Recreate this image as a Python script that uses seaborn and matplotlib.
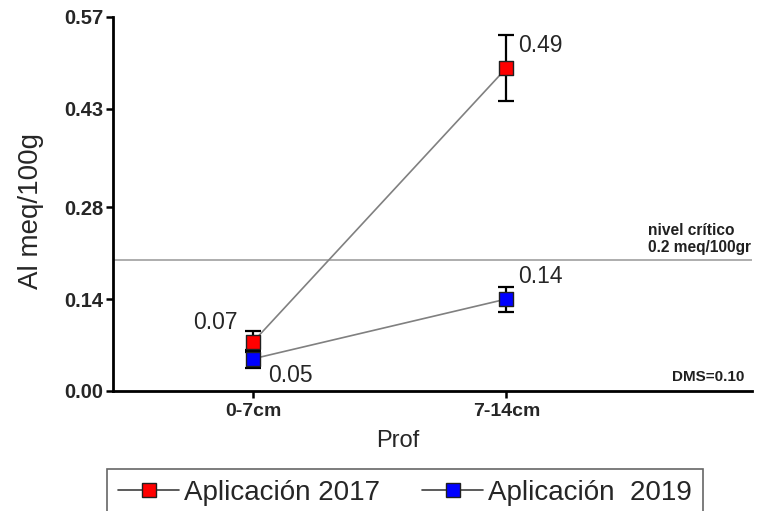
import numpy as np
import pandas as pd
import seaborn as sns
import matplotlib.pyplot as plt
from matplotlib.lines import Line2D

# data
prof = ["0-7cm", "7-14cm"]
al_2017 = [0.075, 0.492]
err_2017 = [0.016, 0.050]
al_2019 = [0.049, 0.140]
err_2019 = [0.014, 0.019]
series = ["Aplicación 2017", "Aplicación  2019"]
colors = ["#ff0000", "#0000ff"]
labels_2017 = ["0.07", "0.49"]
labels_2019 = ["0.05", "0.14"]
yticks = [0.00, 0.14, 0.28, 0.43, 0.57]
critico = 0.2

df = pd.DataFrame({
    "Prof": prof * 2,
    "Al": al_2017 + al_2019,
    "err": err_2017 + err_2019,
    "serie": [series[0]] * 2 + [series[1]] * 2,
})
df["x"] = df["Prof"].map({p: i for i, p in enumerate(prof)})

sns.set_style("white")
plt.rcParams["font.family"] = ["Liberation Sans", "DejaVu Sans"]

fig = plt.figure(figsize=(7.65, 5.11), dpi=100)
ax = fig.add_axes([0.148, 0.235, 0.835, 0.732])

ax.axhline(critico, color="#a0a0a0", lw=1.2, zorder=1)

for s in series:
    sub = df[df["serie"] == s]
    sns.lineplot(data=sub, x="x", y="Al", color="#808080", lw=1.2, ax=ax, zorder=2)
    ax.errorbar(sub["x"], sub["Al"], yerr=sub["err"], fmt="none", ecolor="black",
                elinewidth=1.6, capsize=6, capthick=1.6, zorder=3)

sns.scatterplot(data=df, x="x", y="Al", hue="serie", palette=colors, marker="s",
                s=100, edgecolor="#202020", linewidth=1.0, ax=ax, zorder=4, legend=False)

# value labels
ax.text(-0.063, 0.105, labels_2017[0], ha="right", va="center", fontsize=16.5)
ax.text(1.047, 0.527, labels_2017[1], ha="left", va="center", fontsize=16.5)
ax.text(0.059, 0.024, labels_2019[0], ha="left", va="center", fontsize=16.5)
ax.text(1.047, 0.174, labels_2019[1], ha="left", va="center", fontsize=16.5)

ax.text(1.561, 0.207, "nivel crítico\n0.2 meq/100gr", ha="left", va="bottom",
        fontsize=11.2, fontweight="bold", color="#202020", linespacing=1.15)
ax.text(1.94, 0.010, "DMS=0.10", ha="right", va="bottom", fontsize=11,
        fontweight="bold", color="#202020")

ax.set_xlim(-0.553, 1.97)
ax.set_ylim(0, 0.57)
ax.set_xticks(range(len(prof)))
ax.set_xticklabels(prof, fontsize=14, fontweight="bold")
ax.set_yticks(yticks)
ax.set_yticklabels([f"{v:.2f}" for v in yticks], fontsize=14.5, fontweight="bold")
ax.tick_params(axis="both", direction="out", length=5, width=1.8, color="black",
               left=True, bottom=True, pad=2)
ax.tick_params(axis="x", pad=4)

for side in ["top", "right"]:
    ax.spines[side].set_visible(False)
for side in ["left", "bottom"]:
    ax.spines[side].set_color("black")
    ax.spines[side].set_linewidth(2)

ax.set_xlabel("Prof", fontsize=17)
ax.set_ylabel("Al meq/100g", fontsize=20)
ax.xaxis.set_label_coords(0.446, -0.104)
ax.yaxis.set_label_coords(-0.108, 0.48)

handles = [Line2D([0], [0], color="#404040", lw=1.2, marker="s", markersize=10,
                  markerfacecolor=c, markeredgecolor="#202020") for c in colors]
leg = fig.legend(handles, series, loc="upper left", bbox_to_anchor=(0.140, 0.082),
                 ncol=2, fontsize=20, frameon=True, fancybox=False, handlelength=2.2,
                 handletextpad=0.18, columnspacing=1.5, borderpad=0.4,
                 borderaxespad=0, edgecolor="#404040")
leg.get_frame().set_linewidth(1.2)

fig.savefig("out.png", dpi=100)
